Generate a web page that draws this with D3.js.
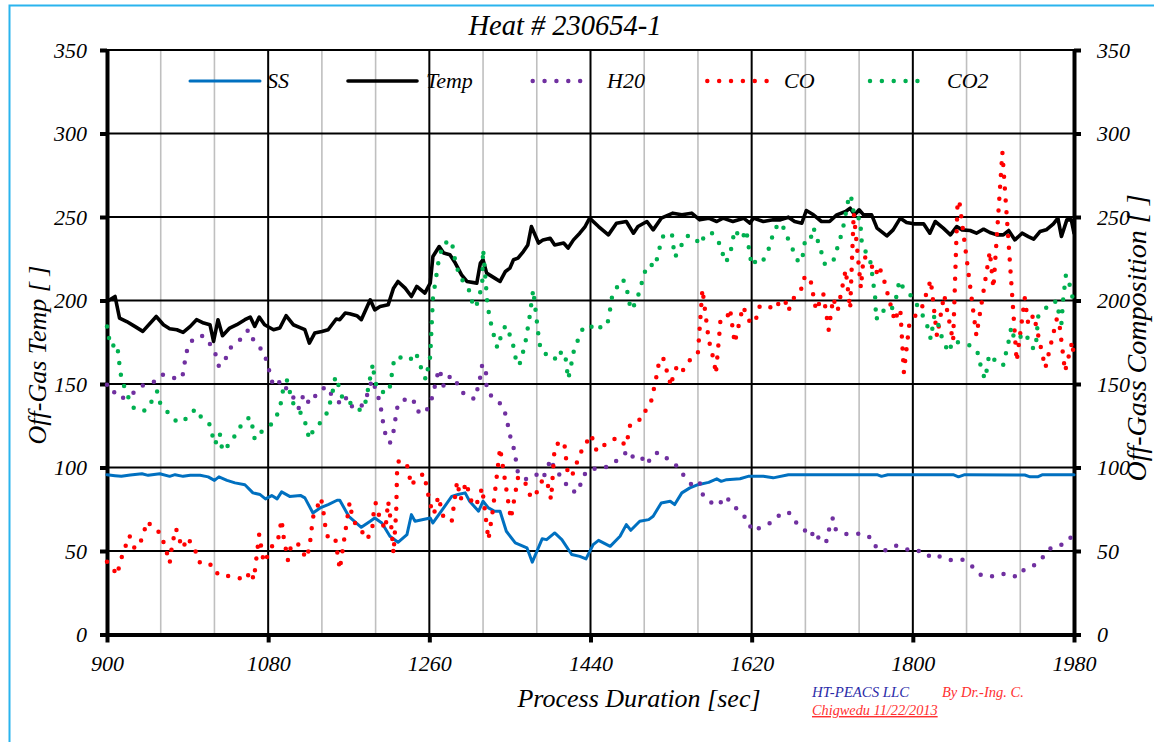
<!DOCTYPE html>
<html><head><meta charset="utf-8">
<script src="https://cdn.jsdelivr.net/npm/d3@7"></script>
<style>body{margin:0;background:#fff;} svg{display:block;}</style>
</head><body>
<svg id="chart" width="1154" height="742"></svg>
<script>
// ---------- data ----------
const xTicks = [900,1080,1260,1440,1620,1800,1980];
const yTicks = [0,50,100,150,200,250,300,350];
const minorX = [960,1020,1140,1200,1320,1380,1500,1560,1680,1740,1860,1920];
const seriesNames = ["SS","Temp","H20","CO","CO2"];
const titleText = "Heat # 230654-1";
const xTitle = "Process Duration [sec]";
const yTitleLeft = "Off-Gas Temp [ ]";
const yTitleRight = "Off-Gass Composition [ ]";

const ssData = [[900,95.7],[909,95.1],[916,94.7],[926,95.5],[939,96.3],[946,95.3],[959,96.3],[970,94.7],[976,95.7],[985,94.7],[993,95.3],[1004,95.3],[1013,94.4],[1020,92.3],[1025,94.4],[1034,92.3],[1043,90.8],[1054,89.7],[1063,84.8],[1071,83.8],[1077,81.2],[1084,83.2],[1090,81.2],[1095,85.4],[1104,82.7],[1116,83.3],[1121,81.8],[1130,72.8],[1138,75.8],[1147,77.8],[1157,80.4],[1160,80.4],[1170,70.8],[1184,64.2],[1194,67.8],[1199,69.8],[1207,66.8],[1216,58.8],[1225,55.2],[1235,59.8],[1240,71.8],[1244,67.8],[1261,69.8],[1264,66.8],[1272,72.8],[1285,82.7],[1292,83.8],[1300,84.8],[1305,79.8],[1315,73.8],[1320,79.8],[1326,75.8],[1333,73.8],[1339,73.8],[1346,61.8],[1356,54.9],[1369,51.9],[1375,43.3],[1386,57.3],[1391,56.8],[1400,60.8],[1408,56.8],[1419,47.9],[1428,46.8],[1435,45.3],[1443,53.8],[1449,56.4],[1462,52.8],[1473,58.8],[1480,65.8],[1485,62.4],[1495,67.8],[1505,68.8],[1510,70.8],[1519,78.8],[1529,79.8],[1534,77.8],[1542,84.8],[1551,87.8],[1560,89.7],[1572,91.1],[1581,93.2],[1586,91.7],[1592,92.7],[1607,93.3],[1616,94.7],[1633,94.7],[1644,93.8],[1661,95.7],[1760,95.7],[1765,94.7],[1772,95.7],[1845,95.7],[1851,94.4],[1858,95.7],[1925,95.5],[1931,94.4],[1940,94.5],[1945,95.7],[1980,95.7]];

const tempData = [[900,199.4],[909,202.4],[914,189.5],[922,187.4],[931,184.5],[940,181.5],[955,190.4],[963,185.5],[970,183.1],[978,182.5],[985,180.9],[993,184.5],[1000,188.5],[1008,186.5],[1015,185.5],[1019,175.5],[1024,188.5],[1029,178.9],[1037,183.5],[1045,185.5],[1054,188.5],[1060,190.1],[1065,184.5],[1070,190.1],[1076,185.5],[1086,182.5],[1093,183.5],[1100,190.9],[1108,185.5],[1117,183.5],[1121,182.5],[1126,174.5],[1132,180.5],[1140,181.5],[1147,182.5],[1156,188.9],[1160,188.5],[1166,192.5],[1171,192.1],[1179,190.9],[1184,188.5],[1194,200.4],[1199,194.4],[1205,196.4],[1214,197.4],[1220,207.4],[1225,211.4],[1233,207.4],[1240,202.4],[1246,208.4],[1255,204.4],[1261,210.4],[1264,226.3],[1271,232.3],[1276,228.4],[1283,227.4],[1289,222.4],[1296,215.4],[1302,211.4],[1313,210.4],[1317,222.4],[1320,224.4],[1324,216.4],[1333,213.4],[1339,211.4],[1345,217.4],[1350,219.4],[1354,224.4],[1359,225.4],[1365,229.3],[1370,233.3],[1374,244.3],[1382,234.4],[1387,236.3],[1395,237.3],[1400,233.3],[1410,234.4],[1415,231.4],[1421,236.3],[1428,240.3],[1434,244.3],[1439,249.3],[1449,244.3],[1460,239.3],[1469,246.3],[1480,247.3],[1488,240.3],[1493,244.3],[1503,247.3],[1510,242.3],[1519,249.3],[1532,252.3],[1542,251.3],[1553,252.3],[1562,248.3],[1572,249.3],[1581,247.3],[1588,249.3],[1599,247.3],[1611,249.3],[1618,246.3],[1622,249.3],[1633,247.3],[1644,248.3],[1652,248.3],[1661,249.9],[1668,247.3],[1676,246.3],[1681,253.9],[1689,251.3],[1698,247.3],[1707,247.3],[1715,251.3],[1725,253.3],[1730,255.3],[1735,251.3],[1740,254.3],[1745,251.3],[1754,251.3],[1760,243.3],[1771,238.7],[1778,242.3],[1786,249.3],[1793,246.7],[1801,245.9],[1812,245.9],[1819,240.3],[1825,247.3],[1834,243.3],[1842,239.3],[1849,244.3],[1855,242.3],[1864,241.9],[1871,240.3],[1879,242.7],[1886,240.7],[1894,239.3],[1901,239.3],[1907,241.9],[1914,236.3],[1922,240.3],[1929,238.3],[1935,236.7],[1942,241.3],[1949,242.3],[1957,245.9],[1962,249.3],[1966,238.3],[1972,248.3],[1977,248.3],[1980,240.3]];

const h2oData = [[900,149.6],[905,149.2],[910,142.6],[920,141.6],[931,145.2],[942,150],[954,151.5],[962,155.6],[971,153.6],[984,153.6],[986,160.2],[988,166.9],[991,173.9],[1000,178.5],[1008,178.9],[1016,173.3],[1022,166.9],[1025,160.5],[1032,164.5],[1037,171.3],[1043,173.9],[1050,177.1],[1058,182.5],[1063,176.9],[1070,172.5],[1076,167.5],[1080,160.5],[1083,153.9],[1086,148.6],[1095,152.1],[1101,146.6],[1108,142],[1114,135.6],[1117,137],[1119,143.6],[1123,139.6],[1129,138.6],[1134,144.6],[1145,148.6],[1152,142.6],[1160,138.6],[1166,142.6],[1171,136.2],[1181,138.2],[1184,136.6],[1190,142.6],[1196,152.6],[1201,145.6],[1205,138.6],[1209,124.6],[1212,117.7],[1216,114.7],[1220,121.6],[1222,128.6],[1224,135.6],[1228,140],[1238,141.2],[1242,141.2],[1245,134],[1255,132.2],[1261,138.6],[1265,145],[1267,151.5],[1271,159],[1274,153.6],[1276,148.6],[1283,154.5],[1288,154.2],[1293,147.6],[1301,142.6],[1311,141],[1314,147.6],[1317,154.5],[1319,161.5],[1323,160.5],[1324,146.6],[1331,141.6],[1341,137.6],[1346,130.6],[1348,124.6],[1351,117.1],[1355,110.3],[1357,103.3],[1359,96.7],[1369,92.7],[1380,95.7],[1387,93.2],[1391,99.1],[1396,105.1],[1400,98.3],[1410,93.3],[1415,87.2],[1425,84.8],[1430,91.4],[1435,97.7],[1443,99.3],[1454,99.3],[1464,102.1],[1474,106.1],[1482,110.1],[1486,106.5],[1495,107.5],[1503,101.7],[1508,106.3],[1512,108.7],[1519,108.7],[1527,104.7],[1536,101.1],[1544,95.3],[1553,89.7],[1562,91.7],[1563,85.4],[1572,79.8],[1583,77.2],[1590,82.7],[1598,78.8],[1606,73.2],[1616,68.8],[1620,62.2],[1629,63.8],[1641,66.8],[1651,71.4],[1661,73.4],[1668,67.8],[1678,63.4],[1685,58.5],[1691,62.2],[1696,56.2],[1703,54.9],[1706,61.8],[1709,68.8],[1711,69.6],[1714,62.8],[1725,60.2],[1734,60.2],[1744,60.4],[1755,57.3],[1760,50.9],[1770,50.4],[1781,53.2],[1792,50.9],[1804,50.9],[1816,46.8],[1824,48.5],[1834,45.5],[1843,44.5],[1855,44.9],[1866,40.9],[1875,35.9],[1885,34.3],[1897,36.3],[1908,36.3],[1916,34.3],[1925,39.3],[1935,41.3],[1945,46.2],[1952,51.3],[1964,52.8],[1974,57.9],[1980,57.9]];

const coData = [[900,43.5],[907,39.3],[911,35.5],[917,47.4],[925,59.2],[931,51.3],[938,56.2],[945,67.8],[952,63.6],[960,60.6],[967,48.6],[970,42.7],[973,54.6],[977,63.6],[984,51.6],[991,58],[995,52],[1001,48.6],[1004,42.5],[1011,42.5],[1019,41.3],[1024,35.7],[1034,35.1],[1044,34.5],[1055,32.5],[1060,38.1],[1064,32.9],[1070,60],[1075,43.1],[1078,45.6],[1087,55.8],[1091,56.8],[1095,68.8],[1097,59.2],[1102,44.5],[1104,50.7],[1109,55.2],[1116,53.2],[1122,45.5],[1126,51.5],[1130,70.2],[1139,81.8],[1142,72.4],[1145,59.8],[1150,56.4],[1155,57.3],[1160,38.9],[1171,79.2],[1173,73.2],[1177,66.8],[1184,62.4],[1190,56.8],[1196,61.8],[1198,74.2],[1200,78.8],[1203,72.8],[1207,66.8],[1211,62.8],[1214,79.8],[1217,67.8],[1220,48.5],[1223,73.8],[1224,98.7],[1226,104.3],[1235,101.7],[1240,89.1],[1245,93.2],[1254,96.3],[1261,77.8],[1265,71.8],[1270,82.7],[1276,69.8],[1285,67.8],[1291,91.7],[1295,80.8],[1301,91.1],[1307,79.8],[1312,76.8],[1319,87.8],[1326,56.8],[1331,74.8],[1339,111.7],[1351,69.2],[1359,93.8],[1365,93.8],[1373,82.7],[1377,81.8],[1387,93.2],[1392,90.3],[1396,80.8],[1400,112.3],[1407,116.2],[1411,113.3],[1415,94.7],[1421,96.7],[1428,108.3],[1435,113.3],[1438,119.2],[1441,119.2],[1447,109.7],[1454,113.1],[1462,115.1],[1469,118],[1477,114.3],[1480,113.1],[1484,125],[1491,128.6],[1497,128.6],[1502,134.6],[1508,140.2],[1513,152.6],[1517,164.5],[1521,165.9],[1524,160.2],[1530,148.6],[1533,157.5],[1536,159.6],[1541,156.2],[1547,161.5],[1557,168.5],[1560,168.9],[1565,206.8],[1572,176.5],[1578,163.5],[1580,156],[1584,180.5],[1585,187.4],[1593,188.9],[1594,194.9],[1596,194.4],[1601,174.5],[1609,193.4],[1611,196.4],[1614,190.4],[1620,185.9],[1627,190.9],[1629,196.8],[1638,196.8],[1646,194.4],[1652,200],[1657,200.4],[1661,193.4],[1665,200],[1676,207.4],[1678,213.4],[1685,214.4],[1692,194],[1700,204],[1706,182.5],[1711,201.4],[1716,193.8],[1725,218.4],[1730,194.9],[1734,252.5],[1742,207.4],[1745,226.3],[1750,224.8],[1759,215.4],[1761,220.8],[1766,216],[1780,187.4],[1784,194.4],[1786,194.9],[1790,156.9],[1796,185.5],[1802,190.4],[1810,195.5],[1820,212.4],[1827,178.5],[1835,203.4],[1845,175.5],[1850,259.8],[1852,259.2],[1871,178.9],[1886,229.3],[1890,207.4],[1900,288.8],[1916,163.5],[1925,201.4],[1929,185.5],[1935,191.5],[1948,159.6],[1961,189.5],[1964,184.5],[1970,157.5],[1978,175.5],[1980,165]];

const co2Data = [[900,184.5],[902,178.1],[905,172.1],[910,174.5],[913,167.9],[914,160.5],[916,153.9],[920,147.2],[925,140.6],[931,134.6],[943,134],[950,139.6],[956,145.6],[959,139],[967,133.6],[976,128.2],[985,127],[992,132.2],[1000,135],[1006,129.2],[1015,125.6],[1018,118.6],[1021,113.7],[1024,120.3],[1026,120.3],[1028,112.7],[1032,109.7],[1037,115.7],[1046,120.7],[1051,127],[1060,130.2],[1063,123.2],[1065,116.7],[1073,121.6],[1083,125.6],[1090,131.6],[1094,138.2],[1096,145],[1101,152.1],[1107,139.2],[1115,133.6],[1120,130.2],[1123,123.1],[1126,117.1],[1131,123.2],[1141,128.2],[1147,134],[1150,141],[1153,147.6],[1155,154.5],[1159,148.6],[1163,141.6],[1168,138.6],[1173,138.6],[1181,134.6],[1186,134.6],[1190,141.6],[1192,148.6],[1195,156.6],[1197,162.1],[1199,151.5],[1205,145.2],[1208,145.2],[1215,145],[1221,165.9],[1229,165.9],[1238,164.1],[1245,168.9],[1249,162.1],[1256,152.6],[1261,166.5],[1264,201.4],[1270,222.4],[1275,233.9],[1285,235.9],[1287,228.7],[1290,221.4],[1294,214.4],[1304,206.8],[1307,200],[1312,195.5],[1315,202],[1319,208.4],[1320,230.8],[1321,224.8],[1325,196.8],[1330,183.1],[1336,171.5],[1340,178.5],[1345,185],[1348,181.9],[1353,174.9],[1358,161.1],[1362,162.9],[1368,176.9],[1372,190.4],[1376,206.4],[1382,178.5],[1384,171.5],[1388,167.9],[1397,168.1],[1402,163.9],[1408,169.9],[1412,166.5],[1415,153],[1417,157.5],[1422,171.5],[1427,177.5],[1432,183.9],[1439,183.1],[1445,186.5],[1453,183.1],[1460,188],[1464,202],[1470,208.4],[1476,212.8],[1480,208.4],[1485,194.4],[1491,198.8],[1502,219.4],[1506,222],[1512,220],[1518,233.3],[1522,239.9],[1531,239.5],[1534,226],[1536,227.4],[1547,238.7],[1556,238.3],[1562,233.3],[1568,239.3],[1575,240.7],[1583,235.3],[1591,222.7],[1596,227.8],[1601,242.3],[1609,236.7],[1614,242.3],[1616,234.4],[1620,220.8],[1625,223.9],[1631,222.4],[1637,227.9],[1642,235.3],[1644,241.7],[1652,246.7],[1657,242.3],[1661,236.3],[1667,229.3],[1672,223.3],[1676,223.3],[1680,237.3],[1686,237.3],[1689,243.7],[1692,238.7],[1696,232.3],[1702,221.4],[1711,223.3],[1719,237.3],[1722,243.3],[1729,263.2],[1731,262.2],[1735,249.3],[1741,249.3],[1743,234.4],[1748,228.4],[1753,222.4],[1758,201.4],[1759,188.5],[1765,194.4],[1773,192.5],[1780,198],[1785,212],[1790,206.8],[1799,202.4],[1806,196.1],[1812,190.1],[1817,183.5],[1820,176.9],[1824,190.9],[1827,189.5],[1830,181.5],[1835,174.5],[1840,168.9],[1845,176.1],[1855,174.1],[1865,172.9],[1872,169.5],[1875,162.6],[1878,156.2],[1881,153],[1883,160.2],[1885,166.9],[1888,167.5],[1894,161.5],[1901,161.5],[1907,175.5],[1910,184.1],[1913,177.5],[1918,176.1],[1923,180.9],[1930,176.5],[1935,170.5],[1938,176.5],[1940,190.4],[1946,193.4],[1953,198.8],[1961,199.4],[1963,192.5],[1966,186.5],[1968,201.4],[1971,215.4],[1974,212],[1977,204.8],[1980,198.5]];

// ---------- layout / style ----------
const W = 1154, H = 742;
const M = {left:107, right:1074, top:50, bottom:634.5};
const FONT = "'Liberation Serif','Times New Roman',serif";
const colors = {SS:"#0070C0", Temp:"#000000", H20:"#7030A0", CO:"#FF0000", CO2:"#00B050"};
const dotted = {SS:false, Temp:false, H20:true, CO:true, CO2:true};
const widths = {SS:3, Temp:3.6, H20:4.5, CO:4.5, CO2:4.5};
const DASH = "0 11.86";
const legendPos = [ {x1:190,x2:260,tx:267}, {x1:348,x2:417,tx:426}, {x1:532.7,x2:592,tx:607}, {x1:707.3,x2:770,tx:784}, {x1:870,x2:929.3,tx:947} ];
const LEG_Y = 81;

const svg = d3.select("#chart");
const x = d3.scaleLinear().domain([900,1980]).range([M.left, M.right]);
const y = d3.scaleLinear().domain([0,350]).range([M.bottom, M.top]);

// outer border (cyan)
svg.append("path").attr("d",`M9.5,${H} V5.5 H${W}`).attr("fill","none")
  .attr("stroke","#2ab4ee").attr("stroke-width",2);

// grid
const grid = svg.append("g");
grid.selectAll(".minor").data(minorX).join("line")
  .attr("x1",d=>x(d)).attr("x2",d=>x(d)).attr("y1",y(350)).attr("y2",y(0))
  .attr("stroke","#bfbfbf").attr("stroke-width",1.6);
grid.selectAll(".majx").data(xTicks.slice(1,-1)).join("line")
  .attr("x1",d=>x(d)).attr("x2",d=>x(d)).attr("y1",y(350)).attr("y2",y(0))
  .attr("stroke","#000").attr("stroke-width",2);
grid.selectAll(".majy").data(yTicks.slice(1)).join("line")
  .attr("x1",x(900)).attr("x2",x(1980)).attr("y1",d=>y(d)).attr("y2",d=>y(d))
  .attr("stroke","#000").attr("stroke-width",2);

// axes
function styleAxis(g){
  g.select(".domain").attr("stroke","#000").attr("stroke-width",4);
  g.selectAll(".tick line").attr("stroke","#000").attr("stroke-width",4);
  g.selectAll(".tick text").attr("font-family",FONT).attr("font-style","italic")
    .attr("font-size",22).attr("fill","#000");
}
const fmt = d3.format("d");
svg.append("g").attr("transform",`translate(${M.left},0)`)
  .call(d3.axisLeft(y).tickValues(yTicks).tickFormat(fmt).tickSize(7).tickSizeOuter(0).tickPadding(13))
  .call(styleAxis);
svg.append("g").attr("transform",`translate(${M.right},0)`)
  .call(d3.axisRight(y).tickValues(yTicks).tickFormat(fmt).tickSize(7).tickSizeOuter(0).tickPadding(16))
  .call(styleAxis);
svg.append("g").attr("transform",`translate(0,${M.bottom})`)
  .call(d3.axisBottom(x).tickValues(xTicks).tickFormat(fmt).tickSize(8).tickSizeOuter(0).tickPadding(13))
  .call(styleAxis);

// series
const line = d3.line().x(d=>x(d[0])).y(d=>y(d[1])).curve(d3.curveLinear);
const allSeries = [ssData, tempData, h2oData, coData, co2Data];
seriesNames.forEach((name,i)=>{
  const p = svg.append("path").datum(allSeries[i]).attr("d",line)
    .attr("fill","none").attr("stroke",colors[name]).attr("stroke-width",widths[name])
    .attr("stroke-linejoin","round").attr("stroke-linecap","round");
  if(dotted[name]) p.attr("stroke-dasharray",DASH);
});

// legend
seriesNames.forEach((name,i)=>{
  const L = legendPos[i];
  const p = svg.append("line").attr("x1",L.x1).attr("x2",L.x2).attr("y1",LEG_Y).attr("y2",LEG_Y)
    .attr("stroke",colors[name]).attr("stroke-width",widths[name]).attr("stroke-linecap","round");
  if(dotted[name]) p.attr("stroke-dasharray",DASH);
  svg.append("text").attr("x",L.tx).attr("y",LEG_Y).attr("dy","0.33em")
    .attr("font-family",FONT).attr("font-style","italic").attr("font-size",22).text(name);
});

// titles
svg.append("text").attr("x",565).attr("y",35).attr("text-anchor","middle")
  .attr("font-family",FONT).attr("font-style","italic").attr("font-size",28.5).text(titleText);
svg.append("text").attr("x",639).attr("y",707).attr("text-anchor","middle")
  .attr("font-family",FONT).attr("font-style","italic").attr("font-size",26).text(xTitle);
svg.append("text").attr("transform","translate(37,355) rotate(-90)").attr("text-anchor","middle")
  .attr("dy","0.33em").attr("font-family",FONT).attr("font-style","italic").attr("font-size",26).text(yTitleLeft);
svg.append("text").attr("transform","translate(1137,338) rotate(-90)").attr("text-anchor","middle")
  .attr("dy","0.33em").attr("font-family",FONT).attr("font-style","italic").attr("font-size",28).text(yTitleRight);

// footer
svg.append("text").attr("x",812).attr("y",697).attr("font-family",FONT).attr("font-style","italic")
  .attr("font-size",14.8).attr("fill","#2a2aa8").text("HT-PEACS LLC");
svg.append("text").attr("x",942).attr("y",697).attr("font-family",FONT).attr("font-style","italic")
  .attr("font-size",14.5).attr("fill","#ff3030").text("By Dr.-Ing. C.");
svg.append("text").attr("x",812).attr("y",715).attr("font-family",FONT).attr("font-style","italic")
  .attr("font-size",14.3).attr("fill","#ff3030").attr("text-decoration","underline").text("Chigwedu 11/22/2013");
</script>
</body></html>
